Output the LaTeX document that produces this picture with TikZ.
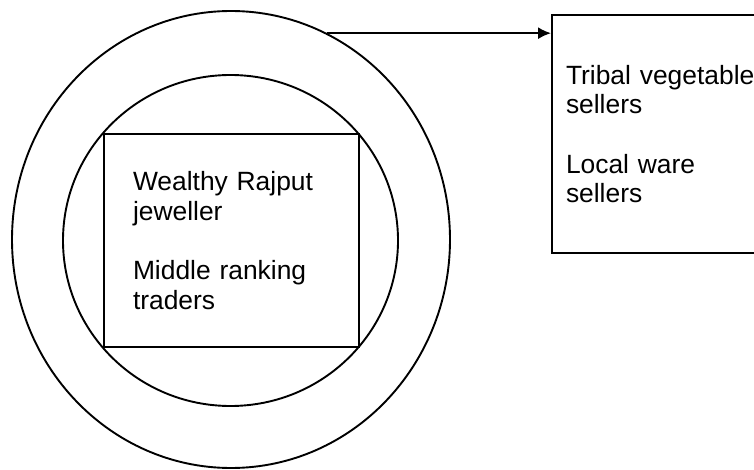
\documentclass[tikz,border=0pt]{standalone}
\usepackage{fontspec}
\setmainfont{Liberation Sans}
\usetikzlibrary{shapes.geometric, arrows.meta}

\begin{document}
\begin{tikzpicture}[x=1pt, y=-1pt]

\tikzset{ring/.style = {shape=ellipse, draw, line width=1.9pt, inner sep=0pt}}
\tikzset{group/.style = {shape=rectangle, draw, line width=1.9pt, inner sep=0pt, align=left,
  font=\fontsize{26.4}{29.5}\selectfont}}
\tikzset{edge/.style = {-{Latex[length=13pt, width=12pt]}, line width=1.9pt}}
\clip (0,0) rectangle (754,470);
%rings
\node[ring, minimum width=438pt, minimum height=457pt] (outer) at (231,239.5) {};
\node[ring, minimum width=335pt, minimum height=331pt] (inner) at (230.5,240.5) {};
%groups
\node[group, minimum width=255pt, minimum height=213pt, text width=197pt] (core) at (231.5,240.5)
  {Wealthy Rajput\\jeweller\\[30pt]Middle ranking\\traders};
\node[group, minimum width=228pt, minimum height=238pt, text width=200pt] (sellers) at (666,134)
  {Tribal vegetable\\sellers\\[30pt]Local ware\\sellers};
%edges
\draw[edge] (outer.65) -- (outer.65 -| sellers.west);

\end{tikzpicture}
\end{document}
